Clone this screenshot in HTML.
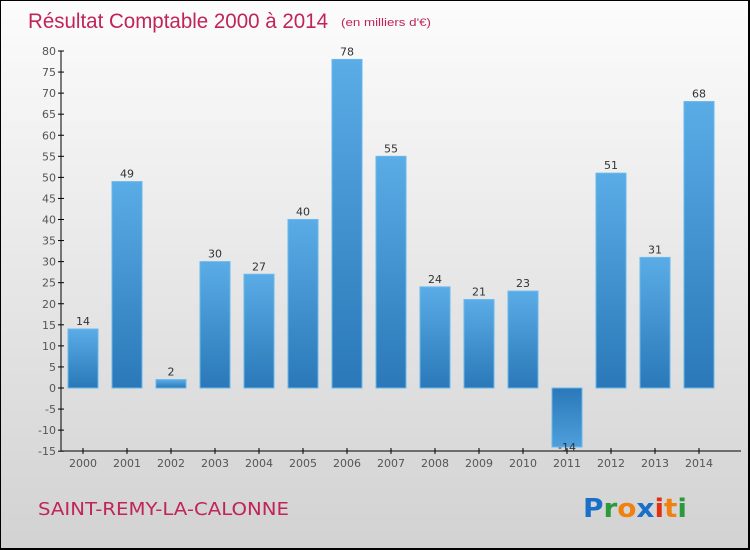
<!DOCTYPE html>
<html><head><meta charset="utf-8"><style>
body{margin:0;}
#c{width:750px;height:550px;position:relative;box-sizing:border-box;border:1px solid #000;border-right-width:2px;border-bottom-width:2px;background:linear-gradient(#fcfcfc,#d2d2d2);overflow:hidden;font-family:"DejaVu Sans","Liberation Sans",sans-serif;}
</style></head><body>
<div id="c">
<svg id="s" width="750" height="550" style="position:absolute;left:0;top:0">
<defs><linearGradient id="g" x1="0" y1="0" x2="0" y2="1"><stop offset="0" stop-color="#5aace6"/><stop offset="1" stop-color="#2a78b8"/></linearGradient>
<linearGradient id="gn" x1="0" y1="0" x2="0" y2="1"><stop offset="0" stop-color="#2a78b8"/><stop offset="1" stop-color="#4f9fdc"/></linearGradient></defs>
<text x="27" y="27" font-size="21" fill="#c0245a" font-family="Liberation Sans, sans-serif" textLength="300" lengthAdjust="spacingAndGlyphs">Résultat Comptable 2000 à 2014</text>
<text x="340" y="25" font-size="11" fill="#c0245a" font-family="Liberation Sans, sans-serif" textLength="90" lengthAdjust="spacingAndGlyphs">(en milliers d'€)</text>
<text x="37" y="514" font-size="18" fill="#c0245a" textLength="251" lengthAdjust="spacingAndGlyphs">SAINT-REMY-LA-CALONNE</text>
<text x="582" y="516" font-size="26" font-weight="bold" textLength="104" lengthAdjust="spacingAndGlyphs"><tspan fill="#1a6fc8">P</tspan><tspan fill="#2a9a3a">r</tspan><tspan fill="#f08010">o</tspan><tspan fill="#1a6fc8">x</tspan><tspan fill="#e03010">i</tspan><tspan fill="#f08010">t</tspan><tspan fill="#2a9a3a">i</tspan></text>
<g id="plot"></g>
</svg>
</div>
<script>
const years=["2000","2001","2002","2003","2004","2005","2006","2007","2008","2009","2010","2011","2012","2013","2014"];
const values=[14,49,2,30,27,40,78,55,24,21,23,-14,51,31,68];
const yTicks=[80,75,70,65,60,55,50,45,40,35,30,25,20,15,10,5,0,-5,-10,-15];
const NS="http://www.w3.org/2000/svg";
const g=document.getElementById('plot');
const y=v=>387-v*(337/80);
const x=i=>82+i*44;
function el(t,a){const e=document.createElementNS(NS,t);for(const k in a)e.setAttribute(k,a[k]);g.appendChild(e);return e;}
let ax=el('line',{x1:60,y1:50,x2:60,y2:450,stroke:'#000','stroke-width':1});


let bx=el('line',{x1:60,y1:450,x2:740,y2:450,stroke:'#000','stroke-width':1});


yTicks.forEach(v=>{
 let t=el('line',{x1:57,x2:63,y1:y(v),y2:y(v),stroke:'#000'});
 
 
 let l=el('text',{x:55,y:y(v)+4,'font-size':11,fill:'#555','text-anchor':'end'});
 l.textContent=v<0?'-'+Math.abs(v):v;
 
 
});
years.forEach((yr,i)=>{
 const v=values[i];
 let t=el('line',{x1:x(i),x2:x(i),y1:447,y2:453,stroke:'#000'});
 
 
 let l=el('text',{x:x(i),y:466,'font-size':11,fill:'#555','text-anchor':'middle'});
 l.textContent=yr;
 
 
 const top=Math.min(y(v),y(0)),h=Math.abs(y(v)-y(0));
 let r=el('rect',{x:x(i)-15,y:top,width:30,height:h,fill:v<0?'url(#gn)':'url(#g)',stroke:'#6ab8ee','stroke-width':1});
 
 
 let vl=el('text',{x:x(i),y:(v<0?y(v)+4:y(v)-4),'font-size':11,fill:'#333','text-anchor':'middle'});
 vl.textContent=v;
 
 
});
</script>
</body></html>
